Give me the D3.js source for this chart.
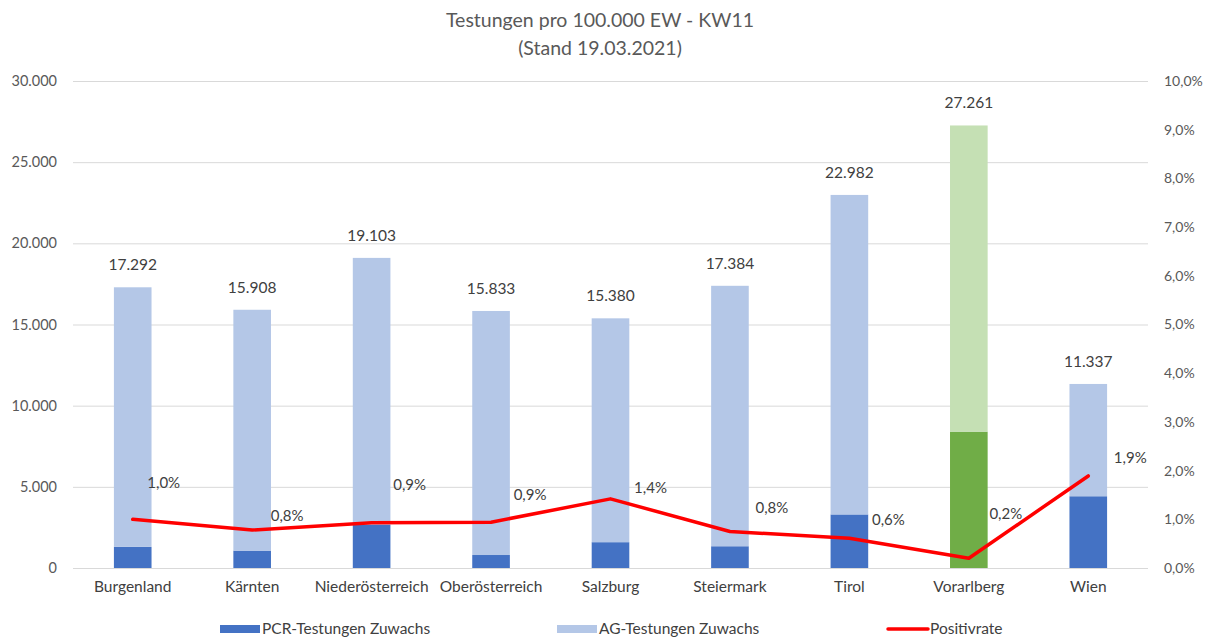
<!DOCTYPE html>
<html>
<head>
<meta charset="utf-8">
<script src="https://cdn.jsdelivr.net/npm/d3@7"></script>
<style>
  html, body { margin: 0; padding: 0; background: #fff; }
  svg text { font-family: Lato, "Open Sans", "Liberation Sans", sans-serif; fill: #595959; }
</style>
</head>
<body>
<svg id="chart" width="1205" height="637"></svg>
<script>
// ---- data ----
const categories = ["Burgenland", "Kärnten", "Niederösterreich", "Oberösterreich", "Salzburg", "Steiermark", "Tirol", "Vorarlberg", "Wien"];
const pcrValues = [1300, 1070, 2650, 800, 1590, 1340, 3300, 8400, 4420];
const agValues = [15992, 14838, 16453, 15033, 13790, 16044, 19682, 18861, 6917];
const positivrate = [0.0100, 0.0078, 0.0093, 0.0094, 0.0142, 0.0075, 0.0061, 0.0020, 0.0189];
const leftTicks = [0, 5000, 10000, 15000, 20000, 25000, 30000];
const rightTicks = [0, 0.01, 0.02, 0.03, 0.04, 0.05, 0.06, 0.07, 0.08, 0.09, 0.10];
const titleLines = ["Testungen pro 100.000 EW - KW11", "(Stand 19.03.2021)"];
const seriesNames = ["PCR-Testungen Zuwachs", "AG-Testungen Zuwachs", "Positivrate"];

// ---- layout (not data) ----
const rateLabelOffsets = [[31, -37], [35, -14], [38, -38], [39, -27], [40, -11], [42, -24], [39, -19], [37, -45], [42, -18]];
const colors = { pcr: "#4472C4", ag: "#B4C7E7", pcrHi: "#70AD47", agHi: "#C5E0B4", line: "#FF0000", grid: "#D9D9D9" };
const highlight = "Vorarlberg";

const de = d3.formatLocale({ decimal: ",", thousands: ".", grouping: [3], currency: ["", "€"] });
const fmtInt = de.format(",.0f");
const fmtPct = de.format(".1%");

const svg = d3.select("#chart");
const plot = { left: 73, right: 1148, top: 81, bottom: 568 };

const x = d3.scaleBand().domain(categories).range([plot.left, plot.right]).paddingInner(0.685).paddingOuter(0.3425);
const y = d3.scaleLinear().domain([0, 30000]).range([plot.bottom, plot.top]);
const y2 = d3.scaleLinear().domain([0, 0.10]).range([plot.bottom, plot.top]);

// title
svg.selectAll("text.title").data(titleLines).join("text")
  .attr("class", "title")
  .attr("x", 600).attr("y", (d, i) => 27 + i * 28)
  .attr("text-anchor", "middle")
  .style("font-size", "19.5px")
  .text(d => d);

// gridlines
svg.append("g").selectAll("line").data(leftTicks).join("line")
  .attr("x1", plot.left).attr("x2", plot.right)
  .attr("y1", d => y(d) + 0.5).attr("y2", d => y(d) + 0.5)
  .attr("stroke", colors.grid).attr("stroke-width", 1);

// left axis
const leftAxis = d3.axisLeft(y).tickValues(leftTicks).tickFormat(fmtInt).tickSize(0).tickPadding(16);
const gl = svg.append("g").attr("transform", `translate(${plot.left},0)`).call(leftAxis);
gl.select(".domain").remove();
gl.selectAll("text").style("font-size", "14.5px").style("fill", "#595959");

// right axis
const rightAxis = d3.axisRight(y2).tickValues(rightTicks).tickFormat(fmtPct).tickSize(0).tickPadding(16);
const gr = svg.append("g").attr("transform", `translate(${plot.right},0)`).call(rightAxis);
gr.select(".domain").remove();
gr.selectAll("text").style("font-size", "14px").style("fill", "#595959");

// bottom axis labels
const bottomAxis = d3.axisBottom(x).tickSize(0).tickPadding(13);
const gb = svg.append("g").attr("transform", `translate(0,${plot.bottom})`).call(bottomAxis);
gb.select(".domain").remove();
gb.selectAll("text").style("font-size", "15.5px").style("fill", "#404040");

// stacked bars
const rows = categories.map((c, i) => ({ c, pcr: pcrValues[i], ag: agValues[i], rate: positivrate[i] }));
const stack = d3.stack().keys(["pcr", "ag"])(rows);
const fillFor = (key, c) => c === highlight ? (key === "pcr" ? colors.pcrHi : colors.agHi) : (key === "pcr" ? colors.pcr : colors.ag);

svg.append("g").selectAll("g").data(stack).join("g")
  .each(function (layer) {
    d3.select(this).selectAll("rect").data(layer).join("rect")
      .attr("x", d => x(d.data.c))
      .attr("width", x.bandwidth())
      .attr("y", d => y(d[1]))
      .attr("height", d => y(d[0]) - y(d[1]))
      .attr("fill", d => fillFor(layer.key, d.data.c));
  });

// total labels
svg.append("g").selectAll("text").data(rows).join("text")
  .attr("x", d => x(d.c) + x.bandwidth() / 2)
  .attr("y", d => y(d.pcr + d.ag) - 17)
  .attr("text-anchor", "middle")
  .style("font-size", "15.5px")
  .style("fill", "#404040")
  .text(d => fmtInt(d.pcr + d.ag));

// positivrate line
const line = d3.line().x(d => x(d.c) + x.bandwidth() / 2).y(d => y2(d.rate));
svg.append("path").datum(rows)
  .attr("d", line)
  .attr("fill", "none")
  .attr("stroke", colors.line)
  .attr("stroke-width", 3.5)
  .attr("stroke-linejoin", "round")
  .attr("stroke-linecap", "round");

// rate labels
svg.append("g").selectAll("text").data(rows).join("text")
  .attr("x", (d, i) => x(d.c) + x.bandwidth() / 2 + rateLabelOffsets[i][0])
  .attr("y", (d, i) => y2(d.rate) + rateLabelOffsets[i][1])
  .attr("dy", "0.35em")
  .attr("text-anchor", "middle")
  .style("font-size", "15px")
  .style("fill", "#404040")
  .text(d => fmtPct(d.rate));

// legend
const legendX = [220, 557, 888];
const lg = svg.append("g");
seriesNames.forEach((name, i) => {
  const g = lg.append("g").attr("transform", `translate(${legendX[i]},629)`);
  if (i < 2) {
    g.append("rect").attr("x", 0).attr("y", -4).attr("width", 40).attr("height", 8)
      .attr("fill", i === 0 ? colors.pcr : colors.ag);
  } else {
    g.append("line").attr("x1", 0).attr("x2", 40).attr("y1", 0).attr("y2", 0)
      .attr("stroke", colors.line).attr("stroke-width", 3.5).attr("stroke-linecap", "round");
  }
  g.append("text").attr("x", 42).attr("y", 0).attr("dy", "0.35em")
    .style("font-size", "15.5px").style("fill", "#404040").text(name);
});
</script>
</body>
</html>
